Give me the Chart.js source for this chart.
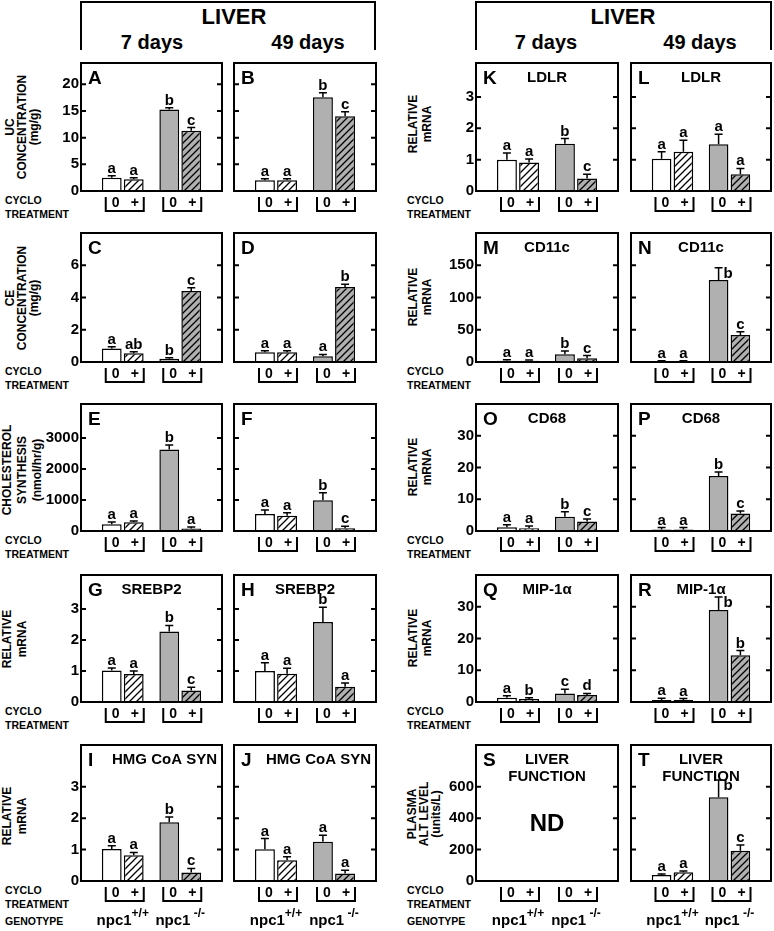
<!DOCTYPE html>
<html>
<head>
<meta charset="utf-8">
<script src="https://cdn.jsdelivr.net/npm/chart.js@4.4.1/dist/chart.umd.min.js"></script>
<style>
  body { margin: 0; background: #fff; }
  #fig { position: relative; width: 774px; height: 931px; overflow: hidden; font-family: "Liberation Sans", Arial, sans-serif; }
  #fig canvas { position: absolute; }
  .t { position: absolute; font-weight: bold; color: #000; white-space: pre; }
  .vt { text-align: center; transform: translate(-50%, -50%) rotate(-90deg); }
  .box { position: absolute; border: 2px solid #000; border-bottom: none; box-sizing: border-box; }
</style>
</head>
<body>
<div id="fig"></div>
<script>
const genotypes = ["npc1+/+", "npc1-/-"];
const treatments = ["0", "+"];

// bar order in every panel: +/+ no cyclo, +/+ cyclo, -/- no cyclo, -/- cyclo
const ucMean7 = [2.5, 2.2, 15.3, 11.3];
const ucErr7 = [0.35, 0.3, 0.3, 0.6];
const ucSig7 = ["a", "a", "b", "c"];
const ucMean49 = [2.0, 2.0, 17.6, 14.0];
const ucErr49 = [0.3, 0.3, 0.8, 0.85];
const ucSig49 = ["a", "a", "b", "c"];

const ceMean7 = [0.83, 0.55, 0.2, 4.4];
const ceErr7 = [0.12, 0.08, 0.06, 0.2];
const ceSig7 = ["a", "ab", "b", "c"];
const ceMean49 = [0.6, 0.6, 0.35, 4.65];
const ceErr49 = [0.1, 0.1, 0.12, 0.17];
const ceSig49 = ["a", "a", "a", "b"];

const synMean7 = [215, 280, 2630, 80];
const synErr7 = [75, 45, 150, 50];
const synSig7 = ["a", "a", "b", "a"];
const synMean49 = [550, 495, 990, 90];
const synErr49 = [125, 95, 245, 60];
const synSig49 = ["a", "a", "b", "c"];

const srebpMean7 = [1.02, 0.9, 2.28, 0.37];
const srebpErr7 = [0.08, 0.1, 0.19, 0.11];
const srebpSig7 = ["a", "a", "b", "c"];
const srebpMean49 = [1.0, 0.91, 2.58, 0.49];
const srebpErr49 = [0.27, 0.18, 0.48, 0.12];
const srebpSig49 = ["a", "a", "b", "a"];

const hmgMean7 = [1.02, 0.82, 1.87, 0.27];
const hmgErr7 = [0.1, 0.09, 0.17, 0.13];
const hmgSig7 = ["a", "a", "b", "c"];
const hmgMean49 = [1.01, 0.66, 1.25, 0.24];
const hmgErr49 = [0.34, 0.11, 0.21, 0.1];
const hmgSig49 = ["a", "a", "a", "a"];

const ldlrMean7 = [1.0, 0.91, 1.51, 0.4];
const ldlrErr7 = [0.21, 0.11, 0.16, 0.13];
const ldlrSig7 = ["a", "a", "b", "c"];
const ldlrMean49 = [1.03, 1.25, 1.49, 0.53];
const ldlrErr49 = [0.22, 0.37, 0.32, 0.19];
const ldlrSig49 = ["a", "a", "a", "a"];

const cd11Mean7 = [2, 2, 12, 6];
const cd11Err7 = [1.5, 1, 5, 4];
const cd11Sig7 = ["a", "a", "b", "c"];
const cd11Mean49 = [1, 1, 127, 42];
const cd11Err49 = [1, 1, 19, 5];
const cd11Sig49 = ["a", "a", "b", "c"];

const cd68Mean7 = [1.15, 0.9, 4.5, 3.0];
const cd68Err7 = [0.8, 0.7, 1.6, 0.8];
const cd68Sig7 = ["a", "a", "b", "c"];
const cd68Mean49 = [0.5, 0.5, 17.3, 5.5];
const cd68Err49 = [0.6, 0.6, 1.3, 0.8];
const cd68Sig49 = ["a", "a", "b", "c"];

const mipMean7 = [1.3, 0.95, 2.7, 2.2];
const mipErr7 = [0.65, 0.4, 1.3, 0.5];
const mipSig7 = ["a", "b", "c", "d"];
const mipMean49 = [0.6, 0.6, 29, 14.7];
const mipErr49 = [0.6, 0.5, 4.1, 1.5];
const mipSig49 = ["a", "a", "b", "b"];

// ALT was not determined at 7 days
const altMean7 = [];
const altMean49 = [38, 55, 533, 193];
const altErr49 = [6, 9, 110, 36];
const altSig49 = ["a", "a", "b", "c"];

const FONT = '"Liberation Sans", Arial, sans-serif';
const bold = (s) => "bold " + s + "px " + FONT;
const GRAY = "#b0b0b0";

// frame boxes of the panels
const colX = [81, 234, 476, 631];
const colW = [141, 142, 142, 140];
const rowY = [63, 233, 404, 575, 745];
const rowH = [128, 129, 127, 127, 136];

const panels = [
  { tag: "A", col: 0, row: 0, mean: ucMean7, err: ucErr7, sig: ucSig7, max: 24, step: 5, last: 20, labels: true },
  { tag: "B", col: 1, row: 0, mean: ucMean49, err: ucErr49, sig: ucSig49, max: 24, step: 5, last: 20 },
  { tag: "C", col: 0, row: 1, mean: ceMean7, err: ceErr7, sig: ceSig7, max: 8, step: 2, last: 6, labels: true },
  { tag: "D", col: 1, row: 1, mean: ceMean49, err: ceErr49, sig: ceSig49, max: 8, step: 2, last: 6 },
  { tag: "E", col: 0, row: 2, mean: synMean7, err: synErr7, sig: synSig7, max: 4100, step: 1000, last: 3000, labels: true },
  { tag: "F", col: 1, row: 2, mean: synMean49, err: synErr49, sig: synSig49, max: 4100, step: 1000, last: 3000 },
  { tag: "G", col: 0, row: 3, mean: srebpMean7, err: srebpErr7, sig: srebpSig7, max: 4.1, step: 1, last: 3, labels: true, title: ["SREBP2"] },
  { tag: "H", col: 1, row: 3, mean: srebpMean49, err: srebpErr49, sig: srebpSig49, max: 4.1, step: 1, last: 3, title: ["SREBP2"] },
  { tag: "I", col: 0, row: 4, mean: hmgMean7, err: hmgErr7, sig: hmgSig7, max: 4.33, step: 1, last: 3, labels: true, title: ["HMG CoA SYN"], right: true },
  { tag: "J", col: 1, row: 4, mean: hmgMean49, err: hmgErr49, sig: hmgSig49, max: 4.33, step: 1, last: 3, title: ["HMG CoA SYN"], right: true },
  { tag: "K", col: 2, row: 0, mean: ldlrMean7, err: ldlrErr7, sig: ldlrSig7, max: 4.08, step: 1, last: 3, labels: true, title: ["LDLR"] },
  { tag: "L", col: 3, row: 0, mean: ldlrMean49, err: ldlrErr49, sig: ldlrSig49, max: 4.08, step: 1, last: 3, title: ["LDLR"] },
  { tag: "M", col: 2, row: 1, mean: cd11Mean7, err: cd11Err7, sig: cd11Sig7, max: 200, step: 50, last: 150, labels: true, title: ["CD11c"] },
  { tag: "N", col: 3, row: 1, mean: cd11Mean49, err: cd11Err49, sig: cd11Sig49, max: 200, step: 50, last: 150, title: ["CD11c"], side: 2 },
  { tag: "O", col: 2, row: 2, mean: cd68Mean7, err: cd68Err7, sig: cd68Sig7, max: 40, step: 10, last: 30, labels: true, title: ["CD68"] },
  { tag: "P", col: 3, row: 2, mean: cd68Mean49, err: cd68Err49, sig: cd68Sig49, max: 40, step: 10, last: 30, title: ["CD68"] },
  { tag: "Q", col: 2, row: 3, mean: mipMean7, err: mipErr7, sig: mipSig7, max: 40, step: 10, last: 30, labels: true, title: ["MIP-1\u03b1"] },
  { tag: "R", col: 3, row: 3, mean: mipMean49, err: mipErr49, sig: mipSig49, max: 40, step: 10, last: 30, title: ["MIP-1\u03b1"], side: 2 },
  { tag: "S", col: 2, row: 4, mean: altMean7, err: [], sig: [], max: 866, step: 200, last: 600, labels: true, title: ["LIVER", "FUNCTION"], nd: true },
  { tag: "T", col: 3, row: 4, mean: altMean49, err: altErr49, sig: altSig49, max: 866, step: 200, last: 600, title: ["LIVER", "FUNCTION"], side: 2 }
];

const fig = document.getElementById("fig");

function hatch(bg) {
  const c = document.createElement("canvas");
  c.width = c.height = 7;
  const g = c.getContext("2d");
  g.fillStyle = bg;
  g.fillRect(0, 0, 7, 7);
  g.strokeStyle = "#000";
  g.lineWidth = 1.3;
  g.beginPath();
  g.moveTo(-1, 8); g.lineTo(8, -1);
  g.moveTo(-1, 1); g.lineTo(1, -1);
  g.moveTo(6, 8); g.lineTo(8, 6);
  g.stroke();
  return g.createPattern(c, "repeat");
}
const hatchWhite = hatch("#fff");
const hatchGray = hatch(GRAY);

function text(str, x, base, size, center) {
  const d = document.createElement("div");
  d.className = "t";
  d.textContent = str;
  d.style.fontSize = size + "px";
  d.style.lineHeight = size + "px";
  d.style.top = (base - 0.846 * size) + "px";
  d.style.left = x + "px";
  if (center) d.style.transform = "translateX(-50%)";
  fig.appendChild(d);
}

function vtitle(lines, cx, cy, lh) {
  const d = document.createElement("div");
  d.className = "t vt";
  d.textContent = lines.join("\n");
  d.style.fontSize = "12px";
  d.style.lineHeight = lh + "px";
  d.style.left = cx + "px";
  d.style.top = cy + "px";
  fig.appendChild(d);
}

// header brackets
[[80, 296], [475, 297]].forEach(([x, w]) => {
  const b = document.createElement("div");
  b.className = "box";
  b.style.left = x + "px"; b.style.top = "1px";
  b.style.width = w + "px"; b.style.height = "49px";
  fig.appendChild(b);
});
text("LIVER", 234, 25, 22, true);
text("LIVER", 623, 25, 22, true);
text("7 days", 152, 49, 20, true);
text("49 days", 308, 49, 20, true);
text("7 days", 546, 49, 20, true);
text("49 days", 700, 49, 20, true);

// axis titles
vtitle(["UC", "CONCENTRATION", "(mg/g)"], 22, 127, 12);
vtitle(["CE", "CONCENTRATION", "(mg/g)"], 22, 298, 12);
vtitle(["CHOLESTEROL", "SYNTHESIS", "(nmol/hr/g)"], 22, 470, 15);
vtitle(["RELATIVE", "mRNA"], 15, 639, 15);
vtitle(["RELATIVE", "mRNA"], 15, 816, 15);
vtitle(["RELATIVE", "mRNA"], 420, 124, 14);
vtitle(["RELATIVE", "mRNA"], 420, 297, 14);
vtitle(["RELATIVE", "mRNA"], 420, 467, 14);
vtitle(["RELATIVE", "mRNA"], 420, 638, 14);
vtitle(["PLASMA", "ALT LEVEL", "(units/L)"], 424, 814, 12);

// row captions
rowY.forEach((y, r) => {
  const b = y + rowH[r];
  [5, 407].forEach((x) => {
    text("CYCLO", x, b + 12.5, 10.5);
    text("TREATMENT", x, b + 26.5, 10.5);
  });
});
text("GENOTYPE", 5, 925, 10.5);
text("GENOTYPE", 407, 925, 10.5);

function panelPlugin(p) {
  return {
    id: "panel" + p.tag,
    afterDatasetsDraw(chart) {
      const ctx = chart.ctx, a = chart.chartArea;
      const y = chart.scales.y, x = chart.scales.x;
      const L = a.left - 13, R = a.right + 13, T = a.top, B = a.bottom;
      ctx.save();
      ctx.strokeStyle = "#000";
      ctx.fillStyle = "#000";
      ctx.textBaseline = "alphabetic";

      // error bars and significance letters
      ctx.lineWidth = 1.5;
      ctx.font = bold(15);
      chart.data.datasets.forEach((ds, di) => {
        chart.getDatasetMeta(di).data.forEach((bar, gi) => {
          const k = gi * 2 + di;
          if (p.mean[k] == null) return;
          const top = y.getPixelForValue(p.mean[k] + p.err[k]);
          ctx.beginPath();
          ctx.moveTo(bar.x, bar.y); ctx.lineTo(bar.x, top);
          ctx.moveTo(bar.x - 4, top); ctx.lineTo(bar.x + 4, top);
          ctx.stroke();
          if (k === p.side) {
            ctx.textAlign = "left";
            ctx.fillText(p.sig[k], bar.x + 5, top + 10);
          } else {
            ctx.textAlign = "center";
            ctx.fillText(p.sig[k], bar.x, top - 3);
          }
        });
      });

      // frame and inner tick marks
      ctx.lineWidth = 2;
      ctx.strokeRect(L, T, R - L, B - T);
      ctx.beginPath();
      y.ticks.forEach((t) => {
        if (t.value <= 0) return;
        const py = y.getPixelForValue(t.value);
        ctx.moveTo(L, py); ctx.lineTo(L + 5, py);
        ctx.moveTo(R - 5, py); ctx.lineTo(R, py);
      });
      ctx.stroke();

      // panel letter and title
      ctx.textAlign = "left";
      ctx.font = bold(19);
      ctx.fillText(p.tag, L + 7, T + 21);
      if (p.title) {
        ctx.font = bold(15);
        p.title.forEach((s, i) => {
          if (p.right) { ctx.textAlign = "right"; ctx.fillText(s, R - 5, T + 19 + i * 17); }
          else { ctx.textAlign = "center"; ctx.fillText(s, (L + R) / 2, T + 19 + i * 17); }
        });
      }
      if (p.nd) {
        ctx.textAlign = "center";
        ctx.font = bold(24);
        ctx.fillText("ND", (L + R) / 2, T + (B - T) * 0.63);
      }

      // treatment brackets under each genotype
      genotypes.forEach((g, gi) => {
        const cx = x.getPixelForValue(gi);
        ctx.lineWidth = 2;
        ctx.beginPath();
        ctx.moveTo(cx - 17, B + 6); ctx.lineTo(cx - 17, B + 20);
        ctx.lineTo(cx + 21, B + 20); ctx.lineTo(cx + 21, B + 6);
        ctx.stroke();
        ctx.font = bold(14);
        ctx.textAlign = "center";
        ctx.fillText(treatments[0], cx - 7, B + 16);
        ctx.fillText(treatments[1], cx + 12, B + 16);

        if (p.row === 4) {
          const m = g.match(/^(npc1)(.*)$/);
          const base = m[1], sup = (gi === 1 ? " " : "") + m[2];
          ctx.font = bold(15);
          const w1 = ctx.measureText(base).width;
          ctx.font = bold(12);
          const w2 = ctx.measureText(sup).width;
          const x0 = cx - (w1 + w2) / 2;
          ctx.textAlign = "left";
          ctx.font = bold(15);
          ctx.fillText(base, x0, B + 44);
          ctx.font = bold(12);
          ctx.fillText(sup, x0 + w1, B + 36);
        }
      });
      ctx.restore();
    }
  };
}

function makeChart(p) {
  const fx = colX[p.col], fy = rowY[p.row], fw = colW[p.col], fh = rowH[p.row];
  const cv = document.createElement("canvas");
  cv.width = fw + 55;
  cv.height = fh + 52;
  cv.style.left = (fx - 52) + "px";
  cv.style.top = (fy - 4) + "px";
  fig.appendChild(cv);

  new Chart(cv, {
    type: "bar",
    data: {
      labels: genotypes,
      datasets: treatments.map((t, di) => ({
        label: t,
        data: genotypes.map((g, gi) => (p.mean.length ? p.mean[gi * 2 + di] : null)),
        backgroundColor: di === 0 ? ["#fff", GRAY] : [hatchWhite, hatchGray],
        borderColor: "#000",
        borderWidth: 1.5,
        categoryPercentage: 0.765,
        barPercentage: 0.9
      }))
    },
    options: {
      responsive: false,
      animation: false,
      devicePixelRatio: 1,
      layout: { padding: { top: 4, bottom: 48, left: 0, right: 16 } },
      plugins: { legend: { display: false }, tooltip: { enabled: false } },
      scales: {
        x: { display: false },
        y: {
          min: 0,
          max: p.max,
          grid: { display: false, drawTicks: false },
          border: { display: false },
          ticks: {
            display: !!p.labels,
            padding: 15,
            color: "#000",
            font: { family: FONT, size: 15, weight: "bold" },
            callback: (v) => String(v)
          },
          afterBuildTicks(s) {
            const list = [];
            for (let v = 0; v <= p.last + 1e-9; v += p.step) list.push({ value: v });
            s.ticks = list;
          },
          afterFit(s) {
            s.width = 65;
            s.paddingTop = 0;
            s.paddingBottom = 0;
          }
        }
      }
    },
    plugins: [panelPlugin(p)]
  });
}

panels.forEach(makeChart);
</script>
</body>
</html>
